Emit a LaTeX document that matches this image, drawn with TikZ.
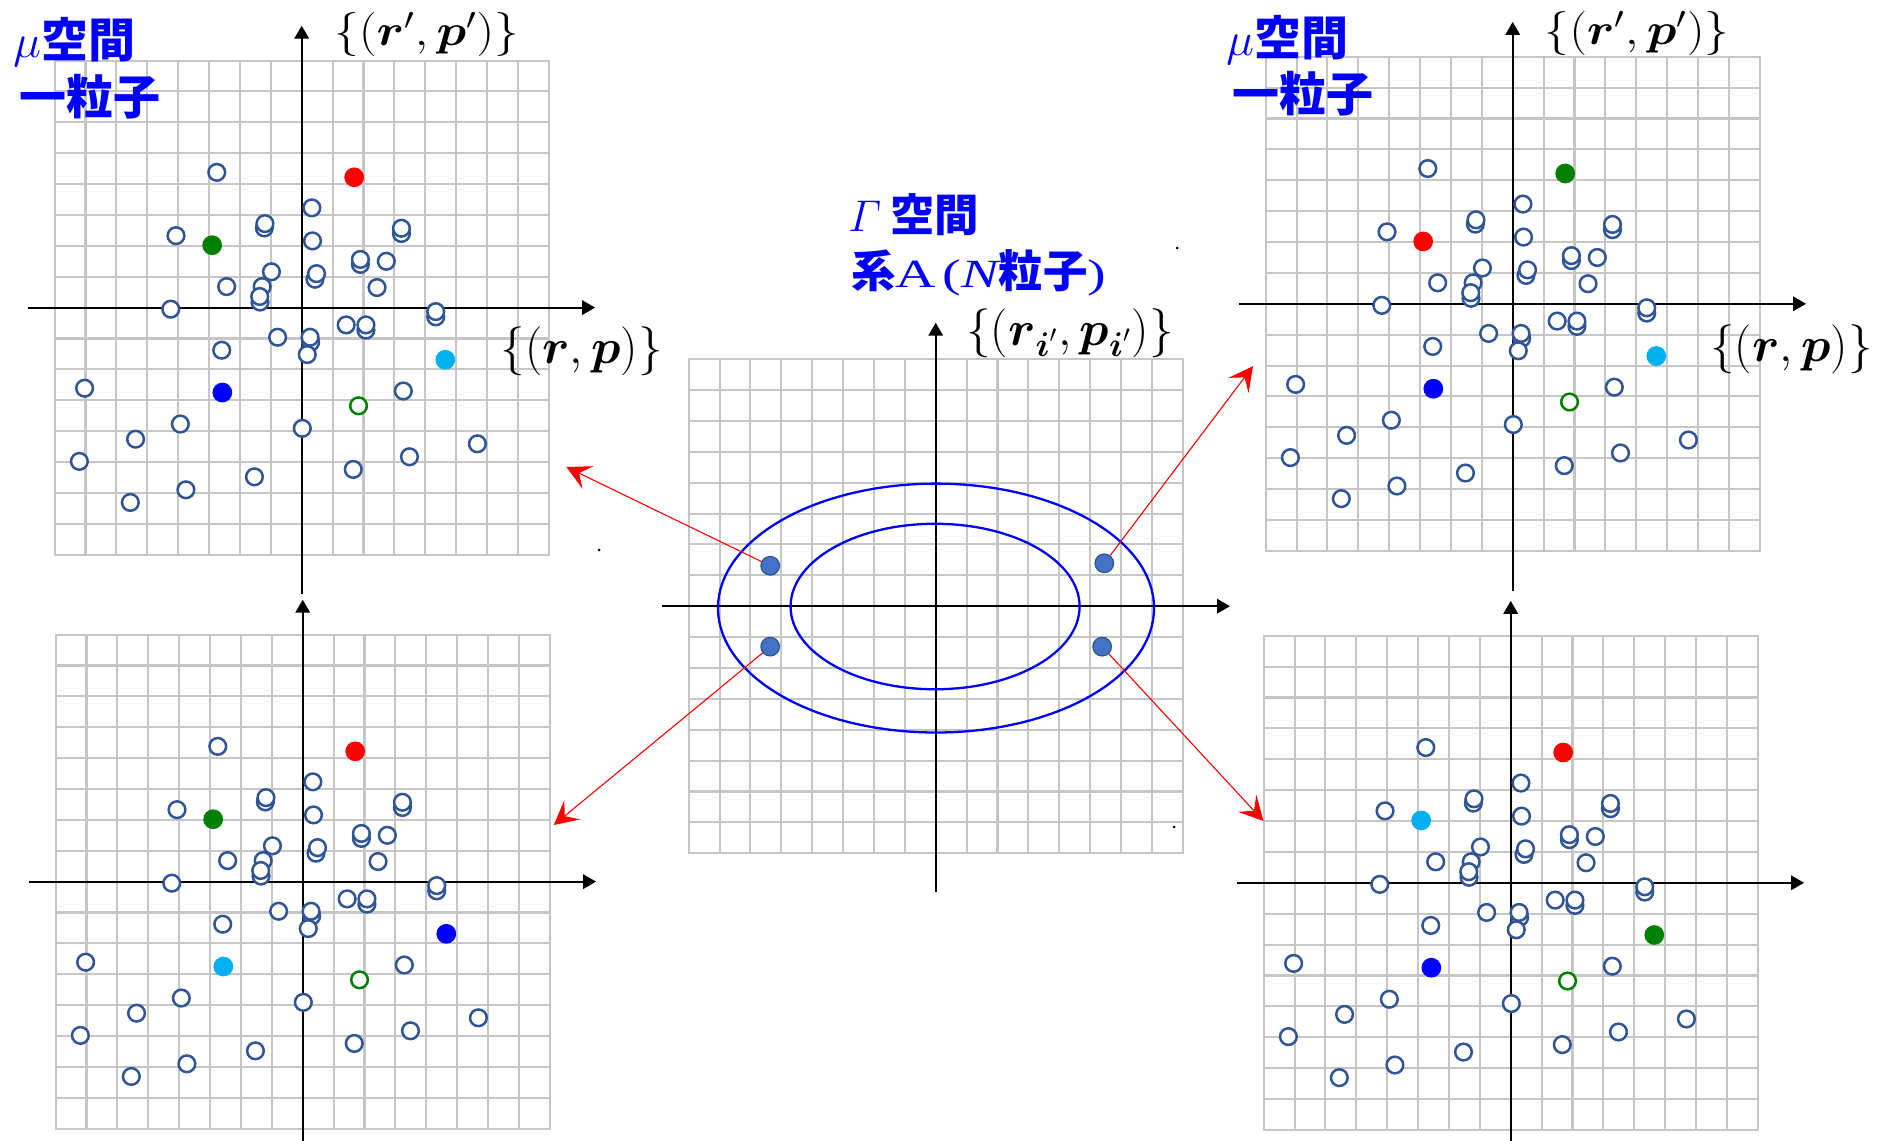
\RequirePackage{fix-cm}
\documentclass[tikz,border=0pt]{standalone}
\usepackage{amsmath}
\usepackage{fontspec}
\usetikzlibrary{arrows.meta}
\newfontfamily\cjk{Noto Sans CJK JP}
\newfontfamily\wideserif{Liberation Serif}[FakeStretch=1.4]
\definecolor{gridgray}{HTML}{C6C6C6}
\definecolor{circblue}{HTML}{2F5597}
\definecolor{ptred}{HTML}{FF0000}
\definecolor{ptgreen}{HTML}{008000}
\definecolor{ptcyan}{HTML}{00B0F0}
\definecolor{ptblue}{HTML}{0000FF}
\definecolor{ptfill}{HTML}{4472C4}
\definecolor{ptdraw}{HTML}{2F528F}
\definecolor{titleblue}{HTML}{0000FF}
\tikzset{
  gridline/.style={draw=gridgray, line width=1.05pt, line cap=rect},
  axisline/.style={draw=black, line width=1.1pt, -{Triangle[length=6.5pt,width=7.2pt]}},
  opencirc/.style={draw=circblue, fill=white, line width=1.25pt},
  greencirc/.style={draw=ptgreen, fill=white, line width=1.25pt},
  ellline/.style={draw=ptblue, line width=1.15pt},
  cpt/.style={circle, fill=ptfill, draw=ptdraw, line width=0.6pt, minimum size=9.3pt, inner sep=0pt},
  redarrow/.style={draw=ptred, line width=0.55pt, -{Stealth[length=12pt,width=12.5pt,inset=5pt]}},
  biglbl/.style={anchor=base, inner sep=0pt, font=\fontsize{24.5pt}{29pt}\selectfont},
  smalllbl/.style={anchor=base, inner sep=0pt, font=\fontsize{22pt}{26pt}\selectfont},
  mutitle/.style={anchor=base west, inner sep=0pt, text=titleblue, font=\fontsize{23.5pt}{28pt}\selectfont},
  gtitle/.style={anchor=base west, inner sep=0pt, text=titleblue, font=\fontsize{22.2pt}{26pt}\selectfont},
  straydot/.style={fill=black}
}
\newcommand\panelgrid{%
  \foreach \i in {-8,...,8}{%
    \draw[gridline] (\i,-8) -- (\i,8);
    \draw[gridline] (-8,\i) -- (8,\i);
  }}
\newcommand\scatterpts{%
  \foreach \u/\v in {-2.75/4.38, 0.33/3.23, -1.21/2.58, -1.19/2.72, -4.07/2.33,
    0.35/2.16, 3.23/2.40, 3.23/2.57, 1.90/1.40, 1.90/1.56, 2.74/1.50,
    -0.98/1.16, 0.43/0.92, 0.48/1.10, -2.43/0.68, -1.28/0.68, -1.35/0.18,
    -1.36/0.36, 2.44/0.65, -4.24/-0.05, 4.34/-0.30, 4.34/-0.13, 1.44/-0.56,
    2.08/-0.73, 2.08/-0.56, -0.78/-0.96, 0.29/-1.12, 0.27/-0.96, 0.18/-1.52,
    -2.59/-1.38, -7.03/-2.61, 3.29/-2.70, -3.93/-3.77, 0.02/-3.91,
    -5.38/-4.26, -7.20/-4.98, 5.69/-4.41, 3.49/-4.83, 1.67/-5.24,
    -1.53/-5.48, -3.75/-5.90, -5.55/-6.31}{%
    \draw[opencirc] (\u,\v) circle[radius=0.27];
  }
  \draw[greencirc] (1.84,-3.18) circle[radius=0.27];}
% #1,#2 origin (px); #3..#6 colours of the four marked particles; #7 lower end of the vertical axis
\newcommand\mupanel[7]{%
  \begin{scope}[shift={(#1,#2)}, x=15.44pt, y=15.44pt]
    \panelgrid
    \draw[axisline] (-8.86,0) -- (9.5,0);
    \draw[axisline] (0,#7) -- (0,9.13);
    \scatterpts
    \fill[#3] (1.70,4.22) circle[radius=0.32];
    \fill[#4] (-2.90,2.02) circle[radius=0.32];
    \fill[#5] (4.65,-1.69) circle[radius=0.32];
    \fill[#6] (-2.57,-2.75) circle[radius=0.32];
  \end{scope}}
\begin{document}
\begin{tikzpicture}[x=0.5pt, y=-0.5pt]
\useasboundingbox (0,0) rectangle (1877,1140);
% four mu-space panels
\mupanel{301.7}{307.6}{ptred}{ptgreen}{ptcyan}{ptblue}{-9.28}
\mupanel{302.7}{881.6}{ptred}{ptgreen}{ptblue}{ptcyan}{-8.5}
\mupanel{1512.7}{303.8}{ptgreen}{ptred}{ptcyan}{ptblue}{-9.30}
\mupanel{1510.7}{882.8}{ptred}{ptcyan}{ptgreen}{ptblue}{-8.5}
% Gamma-space panel
\begin{scope}[shift={(935.7,606.2)}, x=15.44pt, y=15.44pt]
  \panelgrid
  \draw[axisline] (-8.86,0) -- (9.53,0);
  \draw[axisline] (0,-9.26) -- (0,9.18);
  \draw[ellline] (0.01,-0.06) ellipse[x radius=7.06, y radius=4.03];
  \draw[ellline] (-0.02,-0.01) ellipse[x radius=4.68, y radius=2.68];
  \node[cpt] (g1) at (-5.36,1.31) {};
  \node[cpt] (g2) at (-5.36,-1.31) {};
  \node[cpt] (g3) at (5.46,1.39) {};
  \node[cpt] (g4) at (5.39,-1.31) {};
\end{scope}
% arrow targets
\coordinate (t1) at (566.4,467);
\coordinate (t2) at (553.8,825);
\coordinate (t3) at (1253,366.2);
\coordinate (t4) at (1263.5,821);
\draw[redarrow] (g1) -- (t1);
\draw[redarrow] (g2) -- (t2);
\draw[redarrow] (g3) -- (t3);
\draw[redarrow] (g4) -- (t4);
% axis labels
\node[smalllbl] (la1) at (426.7,45.5) {\scalebox{1.12}[1]{$\{(\boldsymbol{r}',\boldsymbol{p}')\}$}};
\node[biglbl] (la2) at (581.7,363.5) {$\{(\boldsymbol{r},\boldsymbol{p})\}$};
\node[smalllbl] (la3) at (1637,44.5) {\scalebox{1.12}[1]{$\{(\boldsymbol{r}',\boldsymbol{p}')\}$}};
\node[biglbl] (la4) at (1791.5,361) {$\{(\boldsymbol{r},\boldsymbol{p})\}$};
\node[biglbl] (la5) at (1070,345.5) {$\{(\boldsymbol{r}_{\boldsymbol{i}'},\boldsymbol{p}_{\boldsymbol{i}'})\}$};
% titles
\node[mutitle] (m1) at (13,57) {$\mu$\cjk\bfseries 空間};
\node[mutitle] (m2) at (19,114) {\cjk\bfseries 一粒子};
\node[mutitle] (m3) at (1226,55) {$\mu$\cjk\bfseries 空間};
\node[mutitle] (m4) at (1232,111) {\cjk\bfseries 一粒子};
\node[gtitle] (g5) at (848,231) {$\varGamma$\hspace{4.5pt}\cjk\bfseries 空間};
\node[gtitle] (g6) at (851,287) {{\cjk\bfseries 系}{\wideserif\fontsize{20pt}{24pt}\selectfont A\,(}{\wideserif\fontsize{20pt}{24pt}\selectfont\itshape N}{\cjk\bfseries 粒子}{\wideserif\fontsize{20pt}{24pt}\selectfont )}};
% stray dots
\fill[straydot] (599,550) circle[radius=1.5];
\fill[straydot] (1177,248) circle[radius=1.5];
\fill[straydot] (1174,827) circle[radius=1.5];
\end{tikzpicture}
\end{document}
